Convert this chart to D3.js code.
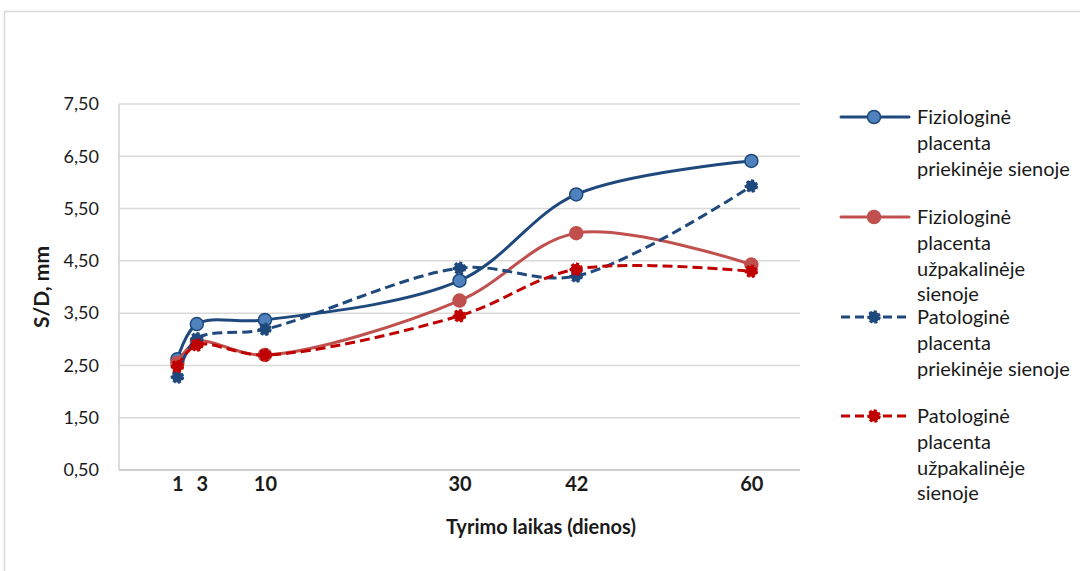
<!DOCTYPE html>
<html>
<head>
<meta charset="utf-8">
<script src="https://cdn.jsdelivr.net/npm/d3@7"></script>
<style>
  html, body { margin: 0; padding: 0; background: #fff; }
  svg { display: block; font-family: Lato, "Open Sans", sans-serif; }
</style>
</head>
<body>
<svg id="chart" width="1080" height="571"></svg>
<script>
// Study days (x values)
const days = [1, 3, 10, 30, 42, 60];
const dayLabels = ["1", "3", "10", "30", "42", "60"];

// S/D ratio by series
const fiziologinePriek = [2.62, 3.29, 3.37, 4.12, 5.77, 6.41];
const fiziologineUzpak = [2.55, 2.95, 2.70, 3.74, 5.03, 4.43];
const patologinePriek = [2.28, 3.01, 3.19, 4.36, 4.21, 5.93];
const patologineUzpak = [2.48, 2.89, 2.70, 3.45, 4.34, 4.30];

// Y axis tick values and labels
const yTicks = [0.5, 1.5, 2.5, 3.5, 4.5, 5.5, 6.5, 7.5];
const yTickLabels = ["0,50", "1,50", "2,50", "3,50", "4,50", "5,50", "6,50", "7,50"];

const seriesNames = [
  ["Fiziologinė", "placenta", "priekinėje sienoje"],
  ["Fiziologinė", "placenta", "užpakalinėje", "sienoje"],
  ["Patologinė", "placenta", "priekinėje sienoje"],
  ["Patologinė", "placenta", "užpakalinėje", "sienoje"]
];

const series = [
  { values: fiziologinePriek, line: "#1F497D", fill: "#4F81BD", dashed: false },
  { values: fiziologineUzpak, line: "#C0504D", fill: "#C0504D", dashed: false },
  { values: patologinePriek, line: "#1F497D", fill: "#1F497D", dashed: true },
  { values: patologineUzpak, line: "#C00000", fill: "#C00000", dashed: true }
];

const textColor = "#1a1a1a";
const svg = d3.select("#chart");

// Outer chart frame
svg.append("rect")
  .attr("x", 4.5).attr("y", 11.5).attr("width", 1200).attr("height", 700)
  .attr("fill", "#fff").attr("stroke", "#D9D9D9").attr("stroke-width", 1.5);

const plot = { left: 119, right: 800, top: 104, bottom: 470 };

const x = d3.scaleLinear().domain([-5, 65]).range([plot.left, plot.right]);
const y = d3.scaleLinear().domain([0.5, 7.5]).range([plot.bottom, plot.top]);

// Horizontal gridlines
svg.append("g")
  .selectAll("line")
  .data(yTicks)
  .join("line")
  .attr("x1", plot.left).attr("x2", plot.right)
  .attr("y1", d => y(d)).attr("y2", d => y(d))
  .attr("stroke", "#D9D9D9").attr("stroke-width", 1.5);

// Left axis line
svg.append("line")
  .attr("x1", plot.left).attr("x2", plot.left)
  .attr("y1", plot.top).attr("y2", plot.bottom)
  .attr("stroke", "#D0D0D0").attr("stroke-width", 1.5);

// Bottom axis line
svg.append("line")
  .attr("x1", plot.left).attr("x2", plot.right)
  .attr("y1", plot.bottom).attr("y2", plot.bottom)
  .attr("stroke", "#C8C8C8").attr("stroke-width", 1.5);

// Y tick labels
const yAxis = d3.axisLeft(y).tickValues(yTicks)
  .tickFormat((d, i) => yTickLabels[i]).tickSize(0).tickPadding(20);
const gy = svg.append("g").attr("transform", `translate(${plot.left},0)`).call(yAxis);
gy.select(".domain").remove();
gy.selectAll("text").attr("font-size", 18).attr("fill", textColor)
  .attr("font-family", "Lato, 'Open Sans', sans-serif");

// X tick labels
const xAxis = d3.axisBottom(x).tickValues(days)
  .tickFormat((d, i) => dayLabels[i]).tickSize(0).tickPadding(7);
const gx = svg.append("g").attr("transform", `translate(0,${plot.bottom})`).call(xAxis);
gx.select(".domain").remove();
gx.selectAll("text").attr("font-size", 20).attr("font-weight", "bold").attr("fill", textColor)
  .attr("font-family", "Lato, 'Open Sans', sans-serif");
gx.selectAll(".tick").filter(d => d === 3).select("text").attr("dx", 5);

// Axis titles
svg.append("text")
  .attr("x", 541).attr("y", 534)
  .attr("text-anchor", "middle")
  .attr("font-size", 20).attr("font-weight", "bold").attr("fill", textColor)
  .text("Tyrimo laikas (dienos)");

svg.append("text")
  .attr("transform", "translate(49,287) rotate(-90)")
  .attr("text-anchor", "middle")
  .attr("font-size", 21).attr("font-weight", "bold").attr("fill", textColor)
  .text("S/D, mm");

// Smoothed series lines
const line = d3.line()
  .x(d => x(d[0]))
  .y(d => y(d[1]))
  .curve(d3.curveCatmullRom.alpha(0.5));

const dash = "10,5";

series.forEach(s => {
  const pts = days.map((d, i) => [d, s.values[i]]);
  const g = svg.append("g");
  g.append("path")
    .attr("d", line(pts))
    .attr("fill", "none")
    .attr("stroke", s.line)
    .attr("stroke-width", 3)
    .attr("stroke-linecap", s.dashed ? "butt" : "round")
    .attr("stroke-dasharray", s.dashed ? dash : null);
  g.selectAll("circle")
    .data(pts)
    .join("circle")
    .attr("cx", d => x(d[0]))
    .attr("cy", d => y(d[1]))
    .attr("r", s.dashed ? 5.5 : 6.5)
    .attr("fill", s.fill)
    .attr("stroke", s.line)
    .attr("stroke-width", s.dashed ? 2.5 : 1.5)
    .attr("stroke-dasharray", s.dashed ? "3,2" : null);
});

// Legend
const legendY = [117, 217, 317, 416];
const legend = svg.append("g");
series.forEach((s, i) => {
  const ly = legendY[i];
  legend.append("line")
    .attr("x1", 841).attr("x2", 909)
    .attr("y1", ly).attr("y2", ly)
    .attr("stroke", s.line).attr("stroke-width", 3)
    .attr("stroke-linecap", s.dashed ? "butt" : "round")
    .attr("stroke-dasharray", s.dashed ? "9,5" : null);
  legend.append("circle")
    .attr("cx", 874).attr("cy", ly)
    .attr("r", s.dashed ? 5.5 : 6.5)
    .attr("fill", s.fill)
    .attr("stroke", s.line)
    .attr("stroke-width", s.dashed ? 2.5 : 1.5)
    .attr("stroke-dasharray", s.dashed ? "3,2" : null);
  const t = legend.append("text")
    .attr("x", 917).attr("y", ly + 7)
    .attr("font-size", 20).attr("fill", textColor);
  seriesNames[i].forEach((ln, k) => {
    t.append("tspan").attr("x", 917).attr("dy", k === 0 ? 0 : 25.8).text(ln);
  });
});
</script>
</body>
</html>
